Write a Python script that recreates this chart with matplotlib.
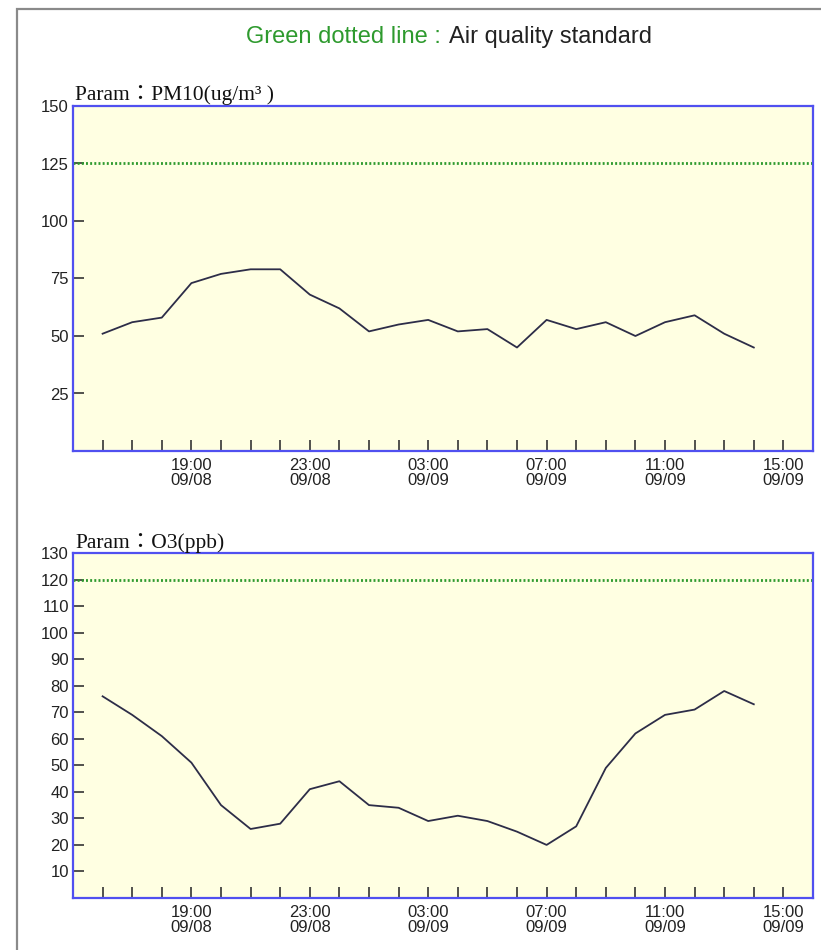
import matplotlib
matplotlib.use("Agg")
import matplotlib.pyplot as plt
import matplotlib.dates as mdates
from matplotlib.patches import Rectangle
import pandas as pd

# ---------------- data ----------------
times = pd.date_range("2008-09-08 16:00", "2008-09-09 14:00", freq="h")
pm10 = [51, 56, 58, 73, 77, 79, 79, 68, 62, 52, 55, 57, 52, 53, 45, 57,
        53, 56, 50, 56, 59, 51, 45]
o3 = [76, 69, 61, 51, 35, 26, 28, 41, 44, 35, 34, 29, 31, 29, 25, 20,
      27, 49, 62, 69, 71, 78, 73]
pm10_std = 125
o3_std = 120
pm10_yticks = [25, 50, 75, 100, 125, 150]
o3_yticks = [10, 20, 30, 40, 50, 60, 70, 80, 90, 100, 110, 120, 130]
major_times = pd.to_datetime(["2008-09-08 19:00", "2008-09-08 23:00",
                              "2008-09-09 03:00", "2008-09-09 07:00",
                              "2008-09-09 11:00", "2008-09-09 15:00"])
major_labels = ["19:00\n09/08", "23:00\n09/08", "03:00\n09/09",
                "07:00\n09/09", "11:00\n09/09", "15:00\n09/09"]
minor_times = pd.date_range("2008-09-08 16:00", "2008-09-09 15:00", freq="h")
x_start = pd.Timestamp("2008-09-08 15:00")
x_end = pd.Timestamp("2008-09-09 16:00")
titles = ["Param\uff1aPM10(ug/m\u00b3 )", "Param\uff1aO3(ppb)"]

# ---------------- style ----------------
W, H = 821, 950
fig = plt.figure(figsize=(W / 100, H / 100), dpi=100)
fig.patch.set_facecolor("white")

sans = ["Liberation Sans", "DejaVu Sans"]
serif = ["Liberation Serif", "Noto Sans CJK TC", "DejaVu Serif"]

spine_c = "#5050f0"
face_c = "#ffffe2"
line_c = "#2d2d48"
green = "#2e9a2e"

def px_x(x):
    return x / W

def px_y(y):
    return 1 - y / H

# outer grey frame
fig.add_artist(Rectangle((px_x(17), -0.05), 1.2, px_y(9) + 0.05,
                         transform=fig.transFigure, fill=False,
                         edgecolor="#8a8a8a", lw=1.6))

# title
fig.text(px_x(441), px_y(43), "Green dotted line :", color=green,
         ha="right", va="baseline", fontsize=17, family=sans)
fig.text(px_x(449), px_y(43), "Air quality standard", color="#222222",
         ha="left", va="baseline", fontsize=17, family=sans)

panels = [
    dict(top=106, bottom=451, vals=pm10, std=pm10_std, ymax=150,
         yticks=pm10_yticks, title=titles[0], title_base=100),
    dict(top=553, bottom=898, vals=o3, std=o3_std, ymax=130,
         yticks=o3_yticks, title=titles[1], title_base=548),
]

for p in panels:
    left, right = 73, 813
    ax = fig.add_axes([px_x(left), px_y(p["bottom"]),
                       (right - left) / W, (p["bottom"] - p["top"]) / H])
    ax.set_facecolor(face_c)
    for s in ax.spines.values():
        s.set_color(spine_c)
        s.set_linewidth(1.6)
    ax.axhline(p["std"], color=green, lw=2.0, linestyle=(0, (0.7, 0.8)))
    ax.plot(times, p["vals"], color=line_c, lw=1.3)
    ax.set_xlim(x_start, x_end)
    ax.set_ylim(0, p["ymax"])
    ax.set_yticks(p["yticks"])
    ax.set_yticklabels([str(v) for v in p["yticks"]])
    ax.set_xticks(minor_times, minor=True)
    ax.set_xticks(major_times, labels=major_labels)
    ax.tick_params(axis="both", which="both", direction="in", length=8,
                   width=1.2, color="#333333")
    ax.tick_params(axis="x", which="both", pad=5, labelsize=12,
                   labelcolor="#222222")
    ax.tick_params(axis="y", pad=3, labelsize=12, labelcolor="#222222")
    for lbl in ax.get_xticklabels():
        lbl.set_linespacing(1.0)
        lbl.set_family(sans)
    for lbl in ax.get_yticklabels():
        lbl.set_family(sans)
    fig.text(px_x(75), px_y(p["title_base"]), p["title"], ha="left",
             va="baseline", fontsize=15.5, family=serif, color="#111111")

fig.savefig("out.png", dpi=100)
